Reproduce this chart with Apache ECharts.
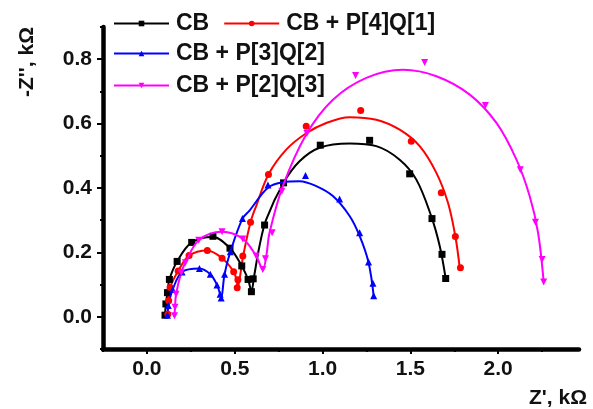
<!DOCTYPE html>
<html>
<head>
<meta charset="utf-8">
<script src="https://cdn.jsdelivr.net/npm/echarts@6/dist/echarts.min.js"></script>
<style>html,body{margin:0;padding:0;background:#fff}#c{width:593px;height:409px}</style>
</head>
<body>
<div id="c"></div>
<script>
// ---- data (Z', kOhm ; -Z'', kOhm) ----
var seriesNames = ['CB', 'CB + P[4]Q[1]', 'CB + P[3]Q[2]', 'CB + P[2]Q[3]'];
var xTickLabels = [0, 0.5, 1.0, 1.5, 2.0];
var xMinorTicks = [-0.25, 0.25, 0.75, 1.25, 1.75, 2.25];
var yTickLabels = [0, 0.2, 0.4, 0.6, 0.8];
var yMinorTicks = [-0.1, 0.1, 0.3, 0.5, 0.7, 0.9];

// measured points (markers)
var cbPoints = [[0.103,0.005],[0.108,0.040],[0.117,0.075],[0.128,0.116],[0.172,0.172],[0.255,0.231],[0.376,0.250],[0.473,0.213],[0.540,0.158],[0.576,0.116],[0.595,0.078],[0.605,0.118],[0.670,0.285],[0.778,0.416],[0.987,0.533],[1.268,0.548],[1.496,0.444],[1.623,0.305],[1.680,0.194],[1.701,0.119]];
var p41Points = [[0.119,0.008],[0.124,0.050],[0.132,0.091],[0.178,0.142],[0.240,0.190],[0.344,0.206],[0.428,0.182],[0.494,0.140],[0.518,0.115],[0.514,0.090],[0.546,0.189],[0.590,0.294],[0.692,0.442],[0.907,0.592],[1.217,0.641],[1.505,0.545],[1.676,0.385],[1.756,0.249],[1.785,0.152]];
var p32Points = [[0.117,0.005],[0.122,0.035],[0.147,0.085],[0.200,0.139],[0.299,0.150],[0.361,0.132],[0.399,0.099],[0.417,0.070],[0.423,0.058],[0.442,0.132],[0.475,0.202],[0.544,0.305],[0.689,0.409],[0.903,0.439],[1.097,0.366],[1.211,0.261],[1.262,0.170],[1.287,0.104],[1.291,0.065]];
var p23Points = [[0.157,0.003],[0.160,0.030],[0.166,0.070],[0.195,0.137],[0.219,0.168],[0.295,0.238],[0.428,0.264],[0.546,0.242],[0.622,0.189],[0.660,0.147],[0.675,0.180],[0.713,0.261],[0.768,0.390],[0.911,0.569],[1.188,0.749],[1.581,0.790],[1.927,0.656],[2.126,0.457],[2.212,0.294],[2.250,0.178],[2.259,0.108]];

// fitted curves
var cbCurve = [[0.103,0.005],[0.108,0.040],[0.117,0.075],[0.128,0.116],[0.172,0.172],[0.255,0.231],[0.376,0.248],[0.473,0.213],[0.540,0.158],[0.576,0.116],[0.595,0.080],[0.610,0.125],[0.641,0.220],[0.679,0.302],[0.778,0.416],[0.869,0.483],[0.983,0.525],[1.154,0.538],[1.306,0.530],[1.439,0.488],[1.534,0.426],[1.619,0.312],[1.667,0.220],[1.701,0.119]];
var p41Curve = [[0.119,0.008],[0.124,0.050],[0.132,0.091],[0.178,0.142],[0.240,0.190],[0.344,0.206],[0.428,0.182],[0.494,0.140],[0.512,0.110],[0.516,0.088],[0.530,0.125],[0.548,0.189],[0.590,0.294],[0.622,0.344],[0.692,0.442],[0.793,0.519],[0.907,0.570],[1.021,0.602],[1.154,0.620],[1.306,0.612],[1.439,0.581],[1.553,0.530],[1.648,0.447],[1.714,0.354],[1.756,0.250],[1.781,0.152]];
var p32Curve = [[0.117,0.005],[0.122,0.035],[0.147,0.085],[0.200,0.139],[0.299,0.150],[0.361,0.132],[0.399,0.099],[0.417,0.070],[0.423,0.058],[0.442,0.132],[0.475,0.202],[0.544,0.305],[0.584,0.330],[0.689,0.401],[0.774,0.418],[0.869,0.421],[0.964,0.406],[1.059,0.375],[1.154,0.313],[1.211,0.251],[1.262,0.168],[1.291,0.065]];
var p23Curve = [[0.157,0.003],[0.160,0.030],[0.166,0.070],[0.195,0.137],[0.219,0.168],[0.295,0.238],[0.428,0.264],[0.546,0.242],[0.622,0.189],[0.660,0.147],[0.680,0.190],[0.698,0.261],[0.774,0.406],[0.907,0.566],[1.059,0.674],[1.249,0.742],[1.458,0.767],[1.648,0.747],[1.838,0.690],[1.990,0.602],[2.104,0.488],[2.179,0.375],[2.227,0.261],[2.259,0.108]];

var colors = ['#000000', '#ff0000', '#0000ff', '#ff00ff'];
var symbols = ['rect', 'circle', 'triangle', 'path://M0,0 L10,0 L5,8.7 Z'];
var pointSets = [cbPoints, p41Points, p32Points, p23Points];
var curveSets = [cbCurve, p41Curve, p32Curve, p23Curve];

var FONT = 'Liberation Sans, Arial, sans-serif';
var series = [];
for (var i = 0; i < 4; i++) {
  series.push({
    name: seriesNames[i], type: 'line', data: curveSets[i], smooth: 0.35,
    showSymbol: false, symbol: symbols[i], symbolSize: 7,
    lineStyle: { color: colors[i], width: 2 }, itemStyle: { color: colors[i] },
    xAxisIndex: 0, yAxisIndex: 0, z: 2 + i, animation: false
  });
}
for (var j = 0; j < 4; j++) {
  series.push({
    name: seriesNames[j], type: 'scatter', data: pointSets[j],
    symbol: symbols[j], symbolSize: 7, itemStyle: { color: colors[j], opacity: 1 },
    xAxisIndex: 0, yAxisIndex: 0, z: 3 + j, animation: false
  });
}

var legendText = { fontSize: 23, fontWeight: 'bold', fontFamily: FONT, color: '#111', padding: [0, 0, 0, 2] };
var axisLineStyle = { color: '#000', width: 4.5, opacity: 1 };
var option = {
  backgroundColor: '#fff',
  animation: false,
  grid: { left: 103, right: 14, top: 27, bottom: 59 },
  legend: [
    { data: [seriesNames[0], seriesNames[1]], orient: 'horizontal', left: 113, top: 12, padding: 0,
      itemWidth: 55, itemHeight: 7, itemGap: 14, textStyle: legendText, selectedMode: false },
    { data: [seriesNames[2], seriesNames[3]], orient: 'vertical', left: 113, top: 42, padding: 0,
      itemWidth: 55, itemHeight: 7, itemGap: 9, textStyle: legendText, selectedMode: false }
  ],
  xAxis: [
    { type: 'value', min: -0.25, max: 2.46, position: 'bottom', z: 10,
      name: "Z', kΩ", nameLocation: 'end', nameGap: 8,
      nameTextStyle: { fontSize: 21, fontWeight: 'bold', fontFamily: FONT, color: '#111', align: 'right', verticalAlign: 'top', padding: [39, 0, 0, 0] },
      axisLine: { show: true, onZero: false, lineStyle: axisLineStyle },
      axisTick: { show: true, inside: false, length: 5, lineStyle: { color: '#000', width: 2 }, customValues: xTickLabels },
      axisLabel: { show: true, margin: 10, fontSize: 21, fontWeight: 'bold', fontFamily: FONT, color: '#111', customValues: xTickLabels,
        formatter: function (v) { return v.toFixed(1); } },
      splitLine: { show: false } },
    { type: 'value', min: -0.25, max: 2.46, position: 'bottom',
      axisLine: { show: false, onZero: false },
      axisTick: { show: true, inside: false, length: 3, lineStyle: { color: '#000', width: 2 }, customValues: xMinorTicks },
      axisLabel: { show: false }, splitLine: { show: false } }
  ],
  yAxis: [
    { type: 'value', min: -0.1, max: 0.9, position: 'left', z: 10,
      axisLine: { show: true, onZero: false, lineStyle: axisLineStyle },
      axisTick: { show: true, inside: false, length: 6, lineStyle: { color: '#000', width: 2 }, customValues: yTickLabels },
      axisLabel: { show: true, margin: 11, fontSize: 21, fontWeight: 'bold', fontFamily: FONT, color: '#111', customValues: yTickLabels,
        formatter: function (v) { return v.toFixed(1); } },
      splitLine: { show: false } },
    { type: 'value', min: -0.1, max: 0.9, position: 'left',
      axisLine: { show: false, onZero: false },
      axisTick: { show: true, inside: false, length: 3, lineStyle: { color: '#000', width: 2 }, customValues: yMinorTicks },
      axisLabel: { show: false }, splitLine: { show: false } }
  ],
  graphic: [
    { type: 'text', x: 27, y: 62, rotation: Math.PI / 2,
      style: { text: "-Z'', kΩ", fill: '#111', font: 'bold 21px ' + FONT, align: 'center', verticalAlign: 'middle' } }
  ],
  series: series
};
var chart = echarts.init(document.getElementById('c'), null, { renderer: 'canvas' });
chart.setOption(option);
</script>
</body>
</html>
